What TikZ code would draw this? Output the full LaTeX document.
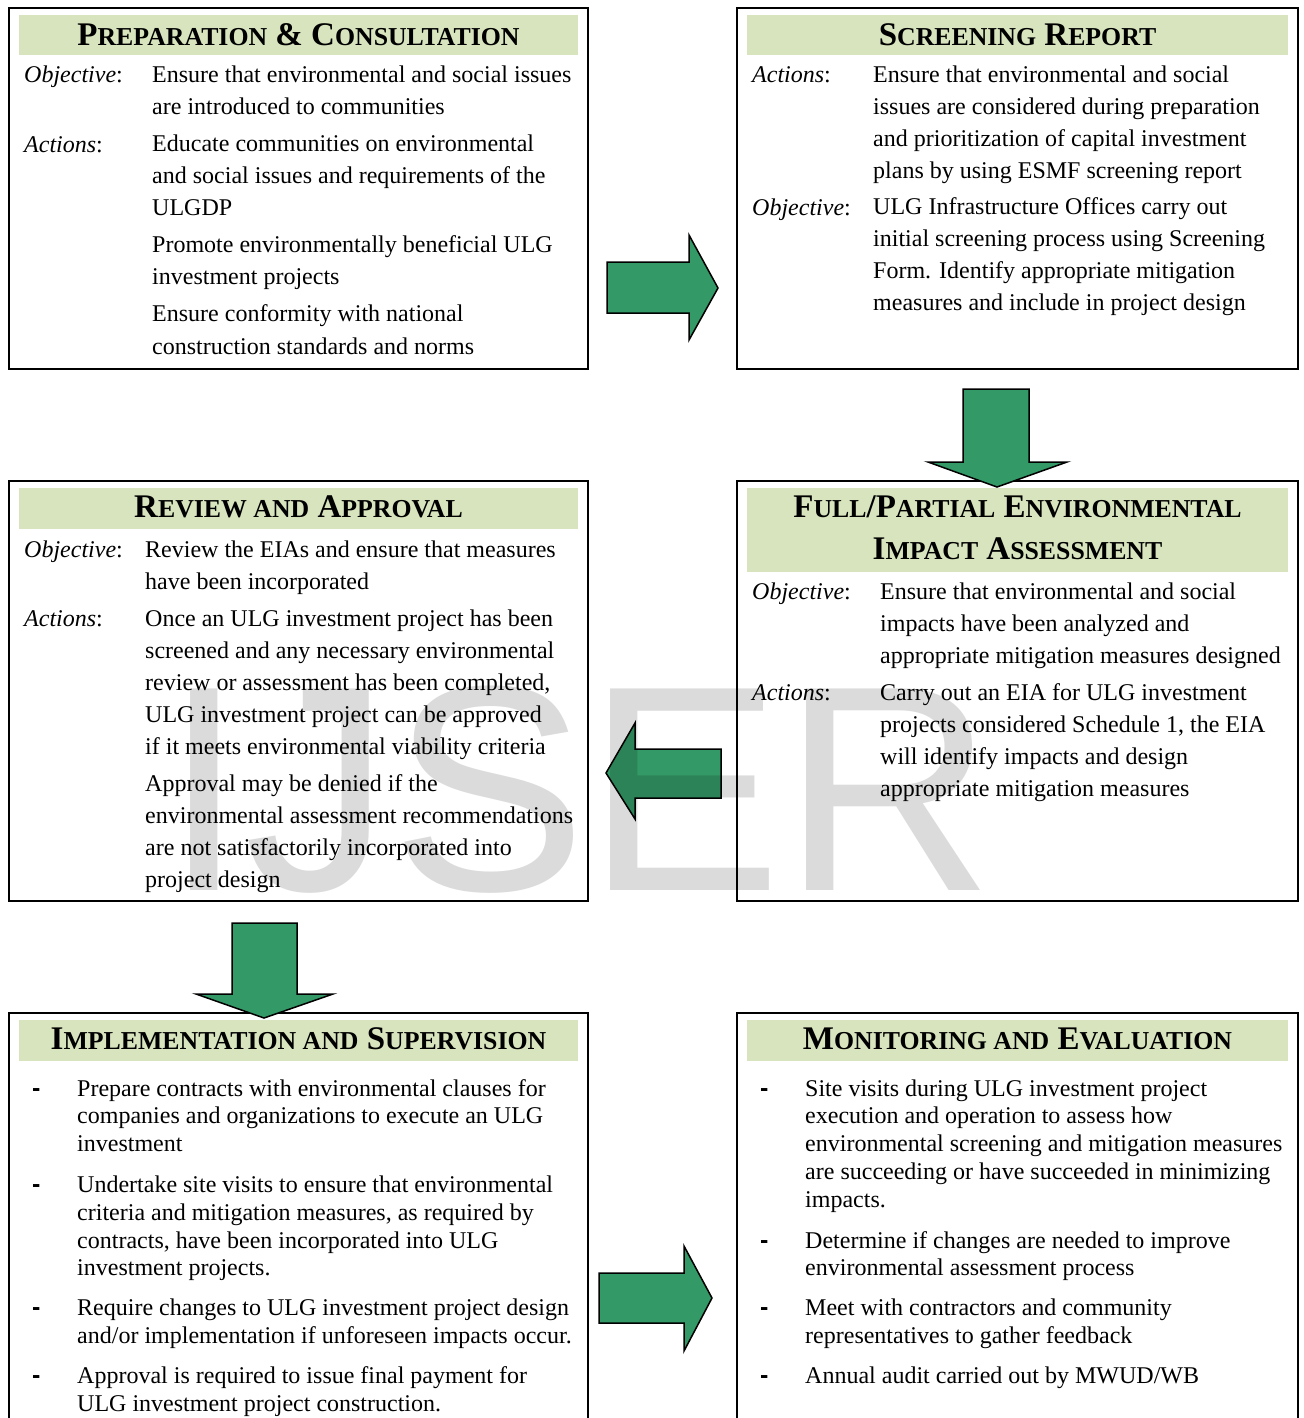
\documentclass[tikz,border=0pt]{standalone}
\usepackage{fontspec}
\setmainfont{Liberation Serif}
\newfontfamily\wmfont{Liberation Sans}
\definecolor{arrowgreen}{RGB}{51,153,102}
\definecolor{bandgreen}{RGB}{215,228,189}
\newcommand{\bodyA}{\fontsize{24}{32}\selectfont}
\newcommand{\bodyB}{\fontsize{24}{27.8}\selectfont}
\newcommand{\sm}[1]{{\fontsize{25.8}{25.8}\selectfont #1}}
\tikzset{
  box/.style={draw=black, line width=2pt},
  bandfill/.style={fill=bandgreen},
  ttl/.style={anchor=base, inner sep=0, font=\fontsize{33}{42}\selectfont\bfseries},
  lbl/.style={anchor=base west, inner sep=0, font=\bodyA},
  txt/.style={anchor=base west, inner sep=0, font=\bodyA},
  txtb/.style={anchor=base west, inner sep=0, font=\bodyB},
  dashmark/.style={anchor=base west, inner sep=0, font=\wmfont\bfseries\fontsize{25}{27.8}\selectfont},
  blockarrow/.style={fill=arrowgreen, draw=black, line width=1.5pt, line join=miter},
}
\begin{document}
\begin{tikzpicture}[x=1pt,y=-1pt]
\useasboundingbox (0,0) rectangle (1303,1418);
\clip (0,0) rectangle (1303,1418);
\fill[white] (0,0) rectangle (1303,1418);

% ---------- Box 1: Preparation & Consultation
\draw[box] (9,8) rectangle (588,369);
\fill[bandfill] (19,15) rectangle (578,55);
\node[ttl] (t1) at (298.5,45.5) {P\sm{REPARATION} \& C\sm{ONSULTATION}};
\node[lbl] (l1a) at (24,83) {\textit{Objective}:};
\node[lbl] (l1b) at (24,152) {\textit{Actions}:};
\node[txt] (x1) at (152,83) {\begin{tabular}[t]{@{}l@{}}
Ensure that environmental and social issues\\
are introduced to communities\\[5pt]
Educate communities on environmental\\
and social issues and requirements of the\\
ULGDP\\[5pt]
Promote environmentally beneficial ULG\\
investment projects\\[5pt]
Ensure conformity with national\\
construction standards and norms
\end{tabular}};

% ---------- Box 2: Screening Report
\draw[box] (737,8) rectangle (1298,369);
\fill[bandfill] (747,15) rectangle (1288,55);
\node[ttl] (t2) at (1017.5,45.5) {S\sm{CREENING} R\sm{EPORT}};
\node[lbl] (l2a) at (752,83) {\textit{Actions}:};
\node[lbl] (l2b) at (752,215) {\textit{Objective}:};
\node[txt] (x2) at (873,83) {\begin{tabular}[t]{@{}l@{}}
Ensure that environmental and social\\
issues are considered during preparation\\
and prioritization of capital investment\\
plans by using ESMF screening report\\[4pt]
ULG Infrastructure Offices carry out\\
initial screening process using Screening\\
Form. Identify appropriate mitigation\\
measures and include in project design
\end{tabular}};

% ---------- Box 3: Review and Approval
\draw[box] (9,481) rectangle (588,901);
\fill[bandfill] (19,488) rectangle (578,529);
\node[ttl] (t3) at (298.5,517.5) {R\sm{EVIEW AND} A\sm{PPROVAL}};
\node[lbl] (l3a) at (24,557) {\textit{Objective}:};
\node[lbl] (l3b) at (24,626) {\textit{Actions}:};
\node[txt] (x3) at (145,557) {\begin{tabular}[t]{@{}l@{}}
Review the EIAs and ensure that measures\\
have been incorporated\\[5pt]
Once an ULG investment project has been\\
screened and any necessary environmental\\
review or assessment has been completed,\\
ULG investment project can be approved\\
if it meets environmental viability criteria\\[5pt]
Approval may be denied if the\\
environmental assessment recommendations\\
are not satisfactorily incorporated into\\
project design
\end{tabular}};

% ---------- Box 4: Full/Partial EIA
\draw[box] (737,481) rectangle (1298,901);
\fill[bandfill] (747,488) rectangle (1288,572);
\node[ttl] (t4a) at (1017.5,517.5) {F\sm{ULL}/P\sm{ARTIAL} E\sm{NVIRONMENTAL}};
\node[ttl] (t4b) at (1017.5,559.5) {I\sm{MPACT} A\sm{SSESSMENT}};
\node[lbl] (l4a) at (752,599) {\textit{Objective}:};
\node[lbl] (l4b) at (752,700) {\textit{Actions}:};
\node[txt] (x4) at (880,599) {\begin{tabular}[t]{@{}l@{}}
Ensure that environmental and social\\
impacts have been analyzed and\\
appropriate mitigation measures designed\\[5pt]
Carry out an EIA for ULG investment\\
projects considered Schedule 1, the EIA\\
will identify impacts and design\\
appropriate mitigation measures
\end{tabular}};

% ---------- Box 5: Implementation and Supervision
\draw[box] (9,1430) -- (9,1013) -- (588,1013) -- (588,1430);
\fill[bandfill] (19,1020) rectangle (578,1061);
\node[ttl] (t5) at (298.5,1049.5) {I\sm{MPLEMENTATION AND} S\sm{UPERVISION}};
\node[dashmark] (d5a) at (32,1096) {-};
\node[dashmark] (d5b) at (32,1192.4) {-};
\node[dashmark] (d5c) at (32,1315.6) {-};
\node[dashmark] (d5d) at (32,1383.2) {-};
\node[txtb] (x5) at (77,1096) {\begin{tabular}[t]{@{}l@{}}
Prepare contracts with environmental clauses for\\
companies and organizations to execute an ULG\\
investment\\[13pt]
Undertake site visits to ensure that environmental\\
criteria and mitigation measures, as required by\\
contracts, have been incorporated into ULG\\
investment projects.\\[12pt]
Require changes to ULG investment project design\\
and/or implementation if unforeseen impacts occur.\\[12pt]
Approval is required to issue final payment for\\
ULG investment project construction.
\end{tabular}};

% ---------- Box 6: Monitoring and Evaluation
\draw[box] (737,1430) -- (737,1013) -- (1298,1013) -- (1298,1430);
\fill[bandfill] (747,1020) rectangle (1288,1061);
\node[ttl] (t6) at (1017.5,1049.5) {M\sm{ONITORING AND} E\sm{VALUATION}};
\node[dashmark] (d6a) at (760,1096) {-};
\node[dashmark] (d6b) at (760,1248) {-};
\node[dashmark] (d6c) at (760,1315.6) {-};
\node[dashmark] (d6d) at (760,1383.2) {-};
\node[txtb] (x6) at (805,1096) {\begin{tabular}[t]{@{}l@{}}
Site visits during ULG investment project\\
execution and operation to assess how\\
environmental screening and mitigation measures\\
are succeeding or have succeeded in minimizing\\
impacts.\\[13pt]
Determine if changes are needed to improve\\
environmental assessment process\\[12pt]
Meet with contractors and community\\
representatives to gather feedback\\[12pt]
Annual audit carried out by MWUD/WB
\end{tabular}};

% ---------- Block arrows
\draw[blockarrow] (607,262) -- (689,262) -- (689,235) -- (718,288) -- (689,340) -- (689,313) -- (607,313) -- cycle;
\draw[blockarrow] (963,389) -- (1029,389) -- (1029,462) -- (1067,462) -- (997,487) -- (928,462) -- (963,462) -- cycle;
\draw[blockarrow] (721,749) -- (635,749) -- (635,723) -- (606,773) -- (635,819) -- (635,798) -- (721,798) -- cycle;
\draw[blockarrow] (232,923) -- (297,923) -- (297,994) -- (333,994) -- (264,1018) -- (196,994) -- (232,994) -- cycle;
\draw[blockarrow] (599,1273) -- (684,1273) -- (684,1246) -- (712,1298) -- (684,1351) -- (684,1323) -- (599,1323) -- cycle;

% ---------- Watermark
\node[anchor=base west, inner sep=0, text=black, text opacity=0.14,
      font=\wmfont\fontsize{293}{300}\selectfont] (wm) at (163,890) {IJSER};
\end{tikzpicture}
\end{document}
